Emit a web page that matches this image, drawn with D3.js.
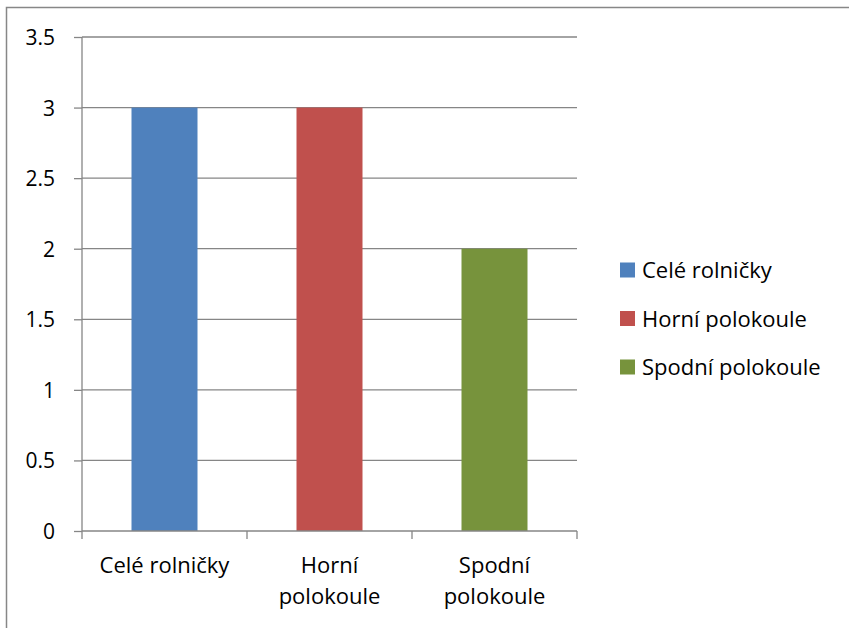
<!DOCTYPE html>
<html><head><meta charset="utf-8">
<script src="https://cdn.jsdelivr.net/npm/d3@7"></script>
<style>body{margin:0;background:#fff}svg{display:block}text{font-family:"Open Sans",sans-serif;fill:#000}</style>
</head><body>
<svg id="c" width="849" height="628"></svg>
<script>
const categories = ["Celé rolničky", "Horní polokoule", "Spodní polokoule"];
const catLabels = [["Celé rolničky"], ["Horní", "polokoule"], ["Spodní", "polokoule"]];
const values = [3, 3, 2];
const colors = ["#4f81bd", "#c0504d", "#77933c"];
const yTicks = [0, 0.5, 1, 1.5, 2, 2.5, 3, 3.5];

const FS = 22, FSY = 21;
const svg = d3.select("#c");
// outer border
svg.append("rect").attr("x", 6.5).attr("y", 7.5).attr("width", 900).attr("height", 900)
  .attr("fill", "none").attr("stroke", "#878787").attr("stroke-width", 1.5);

const L = 82, R = 577, T = 37, B = 531;
const x = d3.scaleBand().domain(categories).range([L, R]).paddingInner(0.6).paddingOuter(0.3);
const xb = d3.scaleBand().domain(categories).range([L, R]);
const y = d3.scaleLinear().domain([0, 3.5]).range([B, T]);
const gridCol = "#868686";

// gridlines
svg.append("g").selectAll("line").data(yTicks.filter(d => d > 0)).join("line")
  .attr("x1", L).attr("x2", R).attr("y1", d => y(d)).attr("y2", d => y(d))
  .attr("stroke", gridCol).attr("stroke-width", 1.3);

// bars
svg.append("g").selectAll("rect").data(categories).join("rect")
  .attr("x", d => x(d)).attr("width", x.bandwidth())
  .attr("y", (d, i) => y(values[i])).attr("height", (d, i) => B - y(values[i]))
  .attr("fill", (d, i) => colors[i]);

// y axis
const ya = svg.append("g").attr("transform", `translate(${L},0)`)
  .call(d3.axisLeft(y).tickValues(yTicks).tickSize(8).tickPadding(19).tickFormat(d3.format("")));
ya.select(".domain").attr("stroke", gridCol).attr("stroke-width", 1.3).attr("d", `M-0,${T}V${B}`);
ya.selectAll(".tick line").attr("stroke", gridCol).attr("stroke-width", 1.3);
ya.selectAll(".tick text").attr("font-size", FSY).attr("font-family", "'Open Sans', sans-serif").attr("fill", "#000").attr("dy", "0.36em");

// x axis
const xa = svg.append("g").attr("transform", `translate(0,${B})`);
xa.append("line").attr("x1", L).attr("x2", R).attr("stroke", gridCol).attr("stroke-width", 1.3);
const bounds = categories.map(c => xb(c)).concat([R]);
xa.selectAll("line.t").data(bounds).join("line").attr("class", "t")
  .attr("x1", d => d).attr("x2", d => d).attr("y1", 0).attr("y2", 8)
  .attr("stroke", gridCol).attr("stroke-width", 1.3);
categories.forEach((c, i) => {
  const t = xa.append("text").attr("text-anchor", "middle").attr("font-size", FS)
    .attr("x", xb(c) + xb.bandwidth() / 2).attr("y", 42);
  catLabels[i].forEach((line, j) => {
    t.append("tspan").attr("x", xb(c) + xb.bandwidth() / 2).attr("dy", j === 0 ? 0 : 31).text(line);
  });
});

// legend
const lg = svg.append("g");
categories.forEach((c, i) => {
  const cy = 270 + i * 48.5;
  lg.append("rect").attr("x", 620).attr("y", cy - 7.5).attr("width", 15).attr("height", 15).attr("fill", colors[i]);
  lg.append("text").attr("x", 642).attr("y", cy + 8).attr("font-size", FS).text(c);
});
</script>
</body></html>
